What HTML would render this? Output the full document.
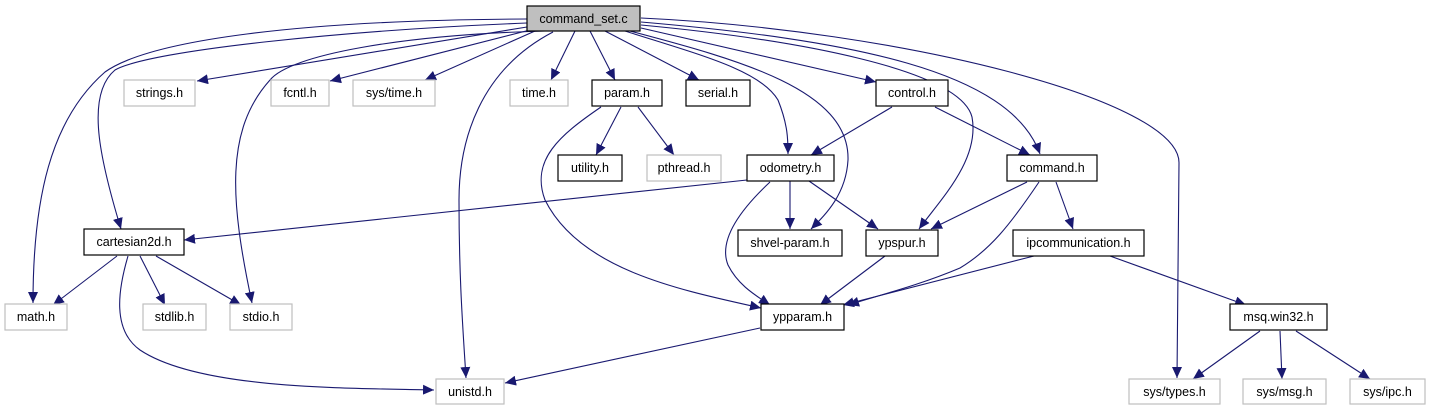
<!DOCTYPE html>
<html><head><meta charset="utf-8"><style>
html,body{margin:0;padding:0;background:#fff;}
svg{display:block;}
text{font-family:"Liberation Sans",sans-serif;font-size:12.5px;text-anchor:middle;fill:#000;}
.e{fill:none;stroke:#191970;stroke-width:1.1;marker-end:url(#a);}
.b{fill:#fff;stroke:#000;stroke-width:1.2;}
.g{fill:#fff;stroke:#bfbfbf;stroke-width:1.2;}
</style></head><body>
<svg width="1431" height="411" viewBox="0 0 1431 411" xmlns="http://www.w3.org/2000/svg">
<defs><marker id="a" markerUnits="userSpaceOnUse" markerWidth="12" markerHeight="10" refX="11" refY="5" orient="auto"><path d="M0,0 L11,5 L0,10 z" fill="#191970"/></marker></defs>
<!-- edges -->
<path class="e" d="M527,27 L197,81"/>
<path class="e" d="M530,30 L330,81"/>
<path class="e" d="M535,31 L425,80"/>
<path class="e" d="M575,31 L551,80"/>
<path class="e" d="M590,31 L615,80"/>
<path class="e" d="M605,31 L699,80"/>
<path class="e" d="M641,28 L876,82"/>
<path class="e" d="M527,19 C300,20 150,40 105,72 C50,120 33,200 33,303"/>
<path class="e" d="M527,23 C350,30 150,50 115,70 C85,95 100,160 121,229"/>
<path class="e" d="M545,31 C400,35 290,55 270,80 C225,130 230,200 252,303"/>
<path class="e" d="M553,32 C480,70 459,140 459,200 C459,280 463,330 466,378"/>
<path class="e" d="M625,31 C700,55 760,70 778,100 C788,125 788,140 788,154"/>
<path class="e" d="M630,31 C740,60 850,90 848,160 C846,195 825,215 811,229"/>
<path class="e" d="M641,25 C800,40 960,70 972,117 C980,160 940,200 919,229"/>
<path class="e" d="M641,22 C850,40 1010,70 1040,154"/>
<path class="e" d="M641,18 C900,30 1180,100 1179,163 C1178,250 1177,320 1177,378"/>
<path class="e" d="M892,107 L811,155"/>
<path class="e" d="M935,107 L1030,155"/>
<path class="e" d="M747,180 L184,240"/>
<path class="e" d="M790,181 L790,229"/>
<path class="e" d="M809,181 L878,229"/>
<path class="e" d="M770,182 C740,210 718,240 728,265 C738,285 755,295 770,305"/>
<path class="e" d="M601,107 C560,135 530,160 545,200 C580,270 680,290 761,308"/>
<path class="e" d="M621,107 L596,155"/>
<path class="e" d="M638,107 L674,155"/>
<path class="e" d="M1027,182 L931,229"/>
<path class="e" d="M1039,182 C1010,225 990,250 960,268 C920,285 880,295 848,305"/>
<path class="e" d="M1056,182 L1073,229"/>
<path class="e" d="M885,256 L820,305"/>
<path class="e" d="M1034,256 L843,305"/>
<path class="e" d="M1110,256 L1246,305"/>
<path class="e" d="M1260,331 L1193,379"/>
<path class="e" d="M1280,331 L1282,379"/>
<path class="e" d="M1296,331 L1370,379"/>
<path class="e" d="M760,328 L505,383"/>
<path class="e" d="M117,256 L53,305"/>
<path class="e" d="M140,256 L165,305"/>
<path class="e" d="M156,256 L241,305"/>
<path class="e" d="M128,256 C118,290 112,330 140,350 C200,390 350,388 434,390"/>
<!-- nodes -->
<rect x="527" y="6" width="113" height="25" fill="#bfbfbf" stroke="#000" stroke-width="1.2"/><text x="583.5" y="23">command_set.c</text>
<rect class="g" x="124" y="80" width="71" height="26"/><text x="159.5" y="97">strings.h</text>
<rect class="g" x="271" y="80" width="58" height="26"/><text x="300" y="97">fcntl.h</text>
<rect class="g" x="353" y="80" width="82" height="26"/><text x="394" y="97">sys/time.h</text>
<rect class="g" x="510" y="80" width="58" height="26"/><text x="539" y="97">time.h</text>
<rect class="b" x="592" y="80" width="70" height="26"/><text x="627" y="97">param.h</text>
<rect class="b" x="686" y="80" width="64" height="26"/><text x="718" y="97">serial.h</text>
<rect class="b" x="876" y="80" width="72" height="26"/><text x="912" y="97">control.h</text>
<rect class="b" x="558" y="155" width="64" height="26"/><text x="590" y="172">utility.h</text>
<rect class="g" x="647" y="155" width="74" height="26"/><text x="684" y="172">pthread.h</text>
<rect class="b" x="747" y="155" width="87" height="26"/><text x="790.5" y="172">odometry.h</text>
<rect class="b" x="1007" y="155" width="90" height="26"/><text x="1052" y="172">command.h</text>
<rect class="b" x="84" y="229" width="100" height="26"/><text x="134" y="246">cartesian2d.h</text>
<rect class="b" x="738" y="230" width="104" height="26"/><text x="790" y="247">shvel-param.h</text>
<rect class="b" x="866" y="230" width="72" height="26"/><text x="902" y="247">ypspur.h</text>
<rect class="b" x="1013" y="230" width="131" height="26"/><text x="1078.5" y="247">ipcommunication.h</text>
<rect class="g" x="5" y="304" width="62" height="26"/><text x="36" y="321">math.h</text>
<rect class="g" x="143" y="304" width="63" height="26"/><text x="174.5" y="321">stdlib.h</text>
<rect class="g" x="230" y="304" width="62" height="26"/><text x="261" y="321">stdio.h</text>
<rect class="b" x="761" y="304" width="83" height="26"/><text x="802.5" y="321">ypparam.h</text>
<rect class="b" x="1230" y="304" width="97" height="26"/><text x="1278.5" y="321">msq.win32.h</text>
<rect class="g" x="436" y="379" width="68" height="25"/><text x="470" y="396">unistd.h</text>
<rect class="g" x="1129" y="379" width="91" height="25"/><text x="1174.5" y="396">sys/types.h</text>
<rect class="g" x="1243" y="379" width="83" height="25"/><text x="1284.5" y="396">sys/msg.h</text>
<rect class="g" x="1350" y="379" width="75" height="25"/><text x="1387.5" y="396">sys/ipc.h</text>
</svg>
</body></html>
